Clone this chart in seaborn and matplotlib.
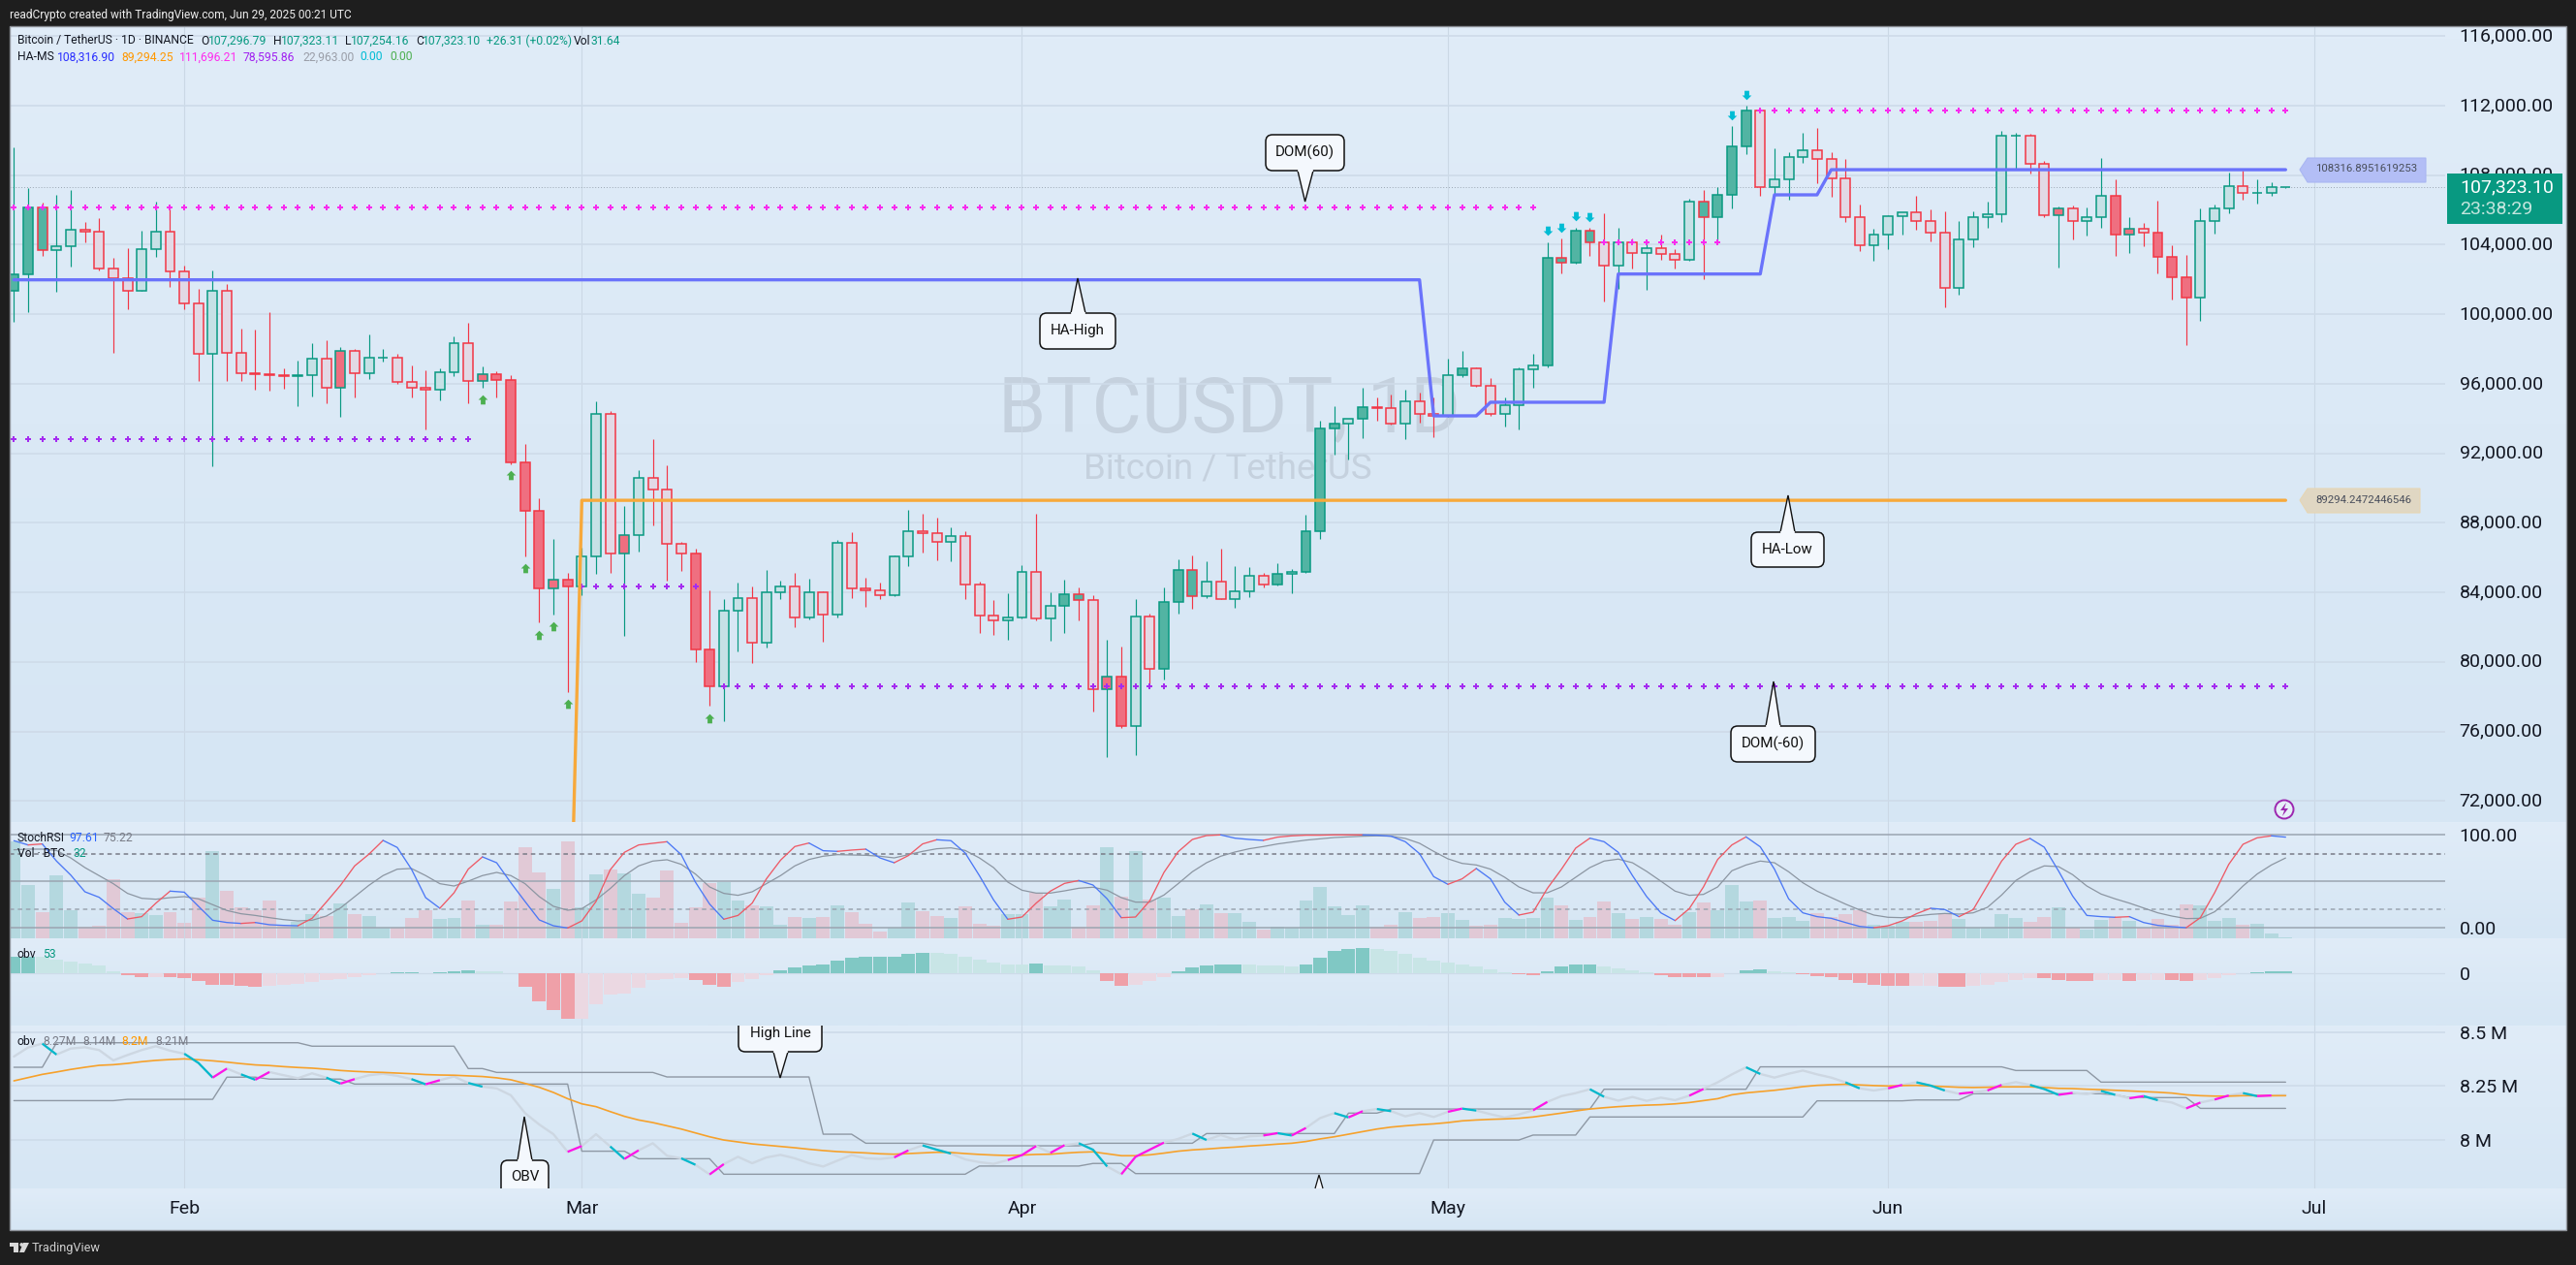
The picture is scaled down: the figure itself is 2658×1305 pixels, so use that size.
import numpy as np
import matplotlib
matplotlib.use("Agg")
import matplotlib.pyplot as plt
from matplotlib.patches import FancyBboxPatch, Polygon, Rectangle, Circle
from matplotlib.path import Path
from matplotlib.transforms import Affine2D
from matplotlib.colors import LinearSegmentedColormap
import seaborn as sns

# ---------- price data (BTCUSDT, 1D, one value per candle) ----------
first_open = 101330
closes = [102278,106127,103673,103896,104844,104732,102613,102055,101330,103729,104732,102446,100605,97705,101330,97761,96590,96534,96515,96423,
96478,97426,95753,97872,96590,97482,97520,96088,95753,95642,96646,98318,96144,96534,96236,91496,88670,84209,84711,84320,
86049,94248,86217,87276,90567,89897,86774,86217,80695,78576,82926,83651,81086,83986,84320,82536,83986,82703,86830,84209,
84097,83818,86049,87499,87387,86885,87220,84432,82647,82368,82535,85157,82480,83204,83874,83539,78408,79133,76289,82591,
79579,83428,85268,83762,84599,83632,84041,84933,84432,85045,85157,87499,93411,93689,93968,94637,94619,93689,94972,94247,
94136,96478,96868,95864,94247,94749,96812,97036,103227,102948,104788,104119,102780,104119,103505,103784,103450,103115,106461,105569,
106852,109640,111704,107298,107744,109027,109417,108915,107800,105569,103951,104566,105625,105848,105346,104677,101498,104286,105569,105736,
110254,110270,108636,105680,106071,105383,105569,106796,104565,104900,104677,103282,102111,100940,105346,106071,107354,106963,107000,107298,107323.10]
highs = [109603,107261,106405,106870,107149,105309,105532,103245,103803,104807,106480,106145,102799,101460,102501,101739,99174,99118,100122,96887,
97334,98337,98505,98095,98000,98839,98003,97705,97036,96757,96887,98727,99508,97000,96700,96478,92537,89414,87072,85120,
86570,94991,94434,88968,91031,92816,91310,86886,86514,84116,83614,84562,84339,85287,84674,85120,84785,84060,87016,87462,
84841,84562,86142,88745,88521,88298,87741,87517,84618,83558,83948,85547,88521,84004,84729,84283,83837,81271,80881,83614,
82777,84283,85900,86123,85789,86513,85510,85454,85119,85677,85342,88466,93875,94712,93998,95771,95214,95381,95660,95493,
95214,97445,97891,96924,96329,95214,96924,97723,104138,104361,104974,104974,105811,104974,104361,104119,104565,103747,106629,107149,
107298,110830,111982,111815,109547,109305,110439,110718,109324,108934,106312,104918,105700,105885,106814,106033,105922,105364,105922,106480,
110551,110439,110365,108822,106182,106257,106145,108989,107762,105587,105253,106535,103970,103412,106089,106312,108153,108264,107762,107595,107323.11]
lows = [99583,100140,103375,101312,102743,104137,102539,97799,100289,101330,103319,101591,100308,96181,91273,96181,96181,95679,95623,95734,
94731,95289,94898,94117,95233,96292,97259,96000,95233,93393,95066,96460,94898,95791,95233,91365,86087,82294,82740,78279,
83856,85083,85138,81513,86365,87871,84692,85250,80008,77498,76606,80602,79952,80825,83614,81997,82443,81160,82573,83670,
83168,83632,83800,85528,86309,85863,85807,83632,81680,81568,81290,82517,82368,81234,81680,82405,77163,74541,76200,74653,
78520,78983,82777,83056,83669,83600,83111,83725,84283,84376,83948,85100,87071,91942,91645,92871,93875,93634,92816,93764,
92927,94100,96366,95809,94136,93541,93373,95771,96925,102372,102900,103375,100754,101479,102650,101423,103153,102650,103100,102037,
104138,106090,109231,106833,106926,106610,108729,107558,106777,105327,103654,103096,103766,104565,104881,104193,100420,101145,103877,104974,
105309,108320,108097,105600,102706,104305,104528,104974,103357,103524,103914,102353,100847,98245,99638,104658,105810,106591,106368,106833,107254.16]
solid_green_fill = [0,1,2,74,75,81,82,83,89,91,92,93,95,102,108,109,110,111,119,120,121,122]
solid_red_fill = [23,33,34,35,36,37,38,39,43,48,49,77,78,144,148,149,151,152,153]

month_idx = [12,40,71,101,132,162]
month_names = ["Feb","Mar","Apr","May","Jun","Jul"]

dom_high_runs = [(0,107,106145),(112,120,104138),(123,160,111696.21)]
dom_low_runs = [(0,32,92816),(40,48,84358),(50,160,78595.86)]
ha_high_runs = [(0,101981),(100,94155),(104,94936),(113,102316),(124,106870),(128,108316.90)]
ha_low_runs = [(39,57400),(40,89294.25)]
buy_idx = [33,35,36,37,38,39,49]
buy_price = [95121,90734,85417,81569,82071,77609,76773]
sell_idx = [108,109,110,111,121,122]
sell_price = [104788,104956,105625,105569,111425,112596]
price_ticks = list(range(72000,116001,4000))

# ---------- volume and StochRSI ----------
volume = [299,165,81,195,87,36,39,183,81,78,72,81,48,126,270,147,96,87,117,39,50,75,69,108,75,69,32,32,63,87,60,63,117,42,42,114,282,204,153,300,96,198,213,201,138,126,210,48,96,171,174,117,102,99,42,66,63,66,102,81,45,
21,33,111,84,69,63,99,45,39,75,75,141,99,120,36,102,282,129,270,120,126,69,90,105,78,78,51,27,36,32,117,159,99,72,102,36,42,81,63,66,78,57,39,42,63,60,63,126,102,57,66,114,78,60,66,60,42,81,111,87,
165,114,117,63,66,54,78,66,75,87,42,39,51,51,54,78,60,32,32,75,63,51,66,96,32,27,57,66,54,32,60,42,105,102,54,63,42,45,15,3]
stoch_k = [93.8,89.2,90.3,71.9,56.9,38.9,33,20.8,9.7,12.2,26.7,39.6,38.5,23.3,8.3,5.9,4.9,5.9,3.5,2.8,2.4,10.4,27.8,45.8,66.7,79.2,94.1,86.5,63.2,32.6,21.2,37.8,63.2,76.4,70.1,48.6,28.5,8.7,2.4,0,7.6,28.5,62.5,81.3,89.2,91,92.7,78.8,49.3,25.7,9.4,13.5,26.7,52.8,72.9,87.5,91.3,83,82.3,83.7,84.7,
75.3,70.1,77.8,90.3,94.8,93.8,80.6,56.3,30.2,9.4,11.8,26.7,39.6,47.9,51,46.2,31.3,11.1,11.8,29.2,59.7,81.9,95.1,99.3,100,96.5,95.1,94.1,97.6,99,99.7,99.7,100,100,100,99.7,98.6,92.7,79.9,55.2,46.9,52.8,63.9,52.8,27.8,13.9,17,42.4,63.2,85.8,96.5,92.7,81.3,56.3,33.7,16.3,8,20.8,44.1,73.6,
89.2,97.9,87.2,63.2,31.3,16.3,12.2,10.4,5.9,1.7,0.3,2.4,7.6,15.3,21.2,19.8,12.2,19.8,45.8,71.9,89.9,96.2,86.8,61.5,34.4,13.5,12.2,11.5,12.2,5.9,2.8,1.4,0.3,11.1,37.8,68.4,89.9,96.9,99,97.61]
stoch_d = [84,84.7,84.7,83.3,75.3,64.9,56.3,47.6,37.2,31.9,30.9,32.6,33.7,31.3,25,18.8,15.3,13.5,11.1,9,7.6,8.3,12.8,21.5,33.7,45.8,56.3,63.2,63.9,56.3,47.6,45.1,50.3,56.3,59.7,56.3,47.6,33.7,23.3,19.1,20.8,30.2,42.4,56.3,66.7,71.9,73.3,68.4,58,44.1,37.2,35.1,38.9,47.6,56.3,66.7,73.6,77.1,78.8,78.5,78.1,
77.1,75.3,78.8,82.3,85.1,86.1,83.3,75.3,64.9,49.3,40.6,37.5,37.5,39.9,42.7,43.8,40.6,32.6,27.8,27.8,35.4,47.6,60.4,70.1,77.1,81.6,85.1,87.5,90.3,92.4,94.4,95.8,97.2,97.9,98.6,99,98.6,96.2,91,82.3,74.3,69.4,67.7,63.2,54.5,44.1,37.8,37.8,44.1,54.5,64.9,71.9,74,70.1,60.8,50.3,39.6,35.1,36.1,44.1,
61.5,67.7,71.9,70.1,60.4,48.6,39.6,32.6,25.7,19.4,13.9,11.5,11.1,12.8,14.6,15.6,14.9,16.3,22.2,35.4,51,60.4,66.7,66,57.3,45.1,36.5,31.3,26.7,21.5,16.3,12.8,10.1,10.4,17.4,30.2,45.1,58,67.7,75.22]

# ---------- obv histogram ----------
obv_hist = [52,52,52,43,37,31,25,7,-5,-10,-10,-10,-14,-23,-35,-35,-38,-41,-38,-35,-32,-26,-20,-17,-11,-5,2,4,4,2,4,7,10,7,7,2,-41,-86,-113,-140,-140,-95,-65,-62,-44,-20,-17,-14,-20,-35,-41,-26,-17,-5,10,19,25,28,40,49,52,
52,52,61,64,64,61,52,43,34,28,28,31,25,25,22,10,-23,-38,-35,-23,-11,7,19,25,28,28,28,25,25,22,28,49,70,76,79,76,70,61,49,40,34,28,22,13,4,-2,-5,7,22,28,28,22,16,10,4,-5,-11,-11,-11,-11,
2,10,13,7,4,-2,-8,-11,-20,-29,-35,-38,-38,-38,-38,-41,-41,-38,-35,-26,-20,-14,-14,-20,-23,-23,-20,-20,-23,-20,-20,-20,-23,-20,-14,-5,1,3,6,7]
hist_strong_runs = [(0,1),(8,9),(11,17),(26,28),(30,32),(36,39),(48,50),(54,64),(72,72),(77,78),(82,86),(91,95),(106,111),(116,119),(121,123),(126,133),(136,137),(143,146),(149,149),(152,153),(157,160)]

# ---------- obv lines (millions) ----------
obv = [8.387,8.429,8.447,8.396,8.424,8.430,8.417,8.369,8.394,8.417,8.435,8.414,8.400,8.357,8.289,8.331,8.304,8.279,8.315,8.300,8.286,8.309,8.289,8.261,8.282,8.300,8.307,8.297,8.282,8.258,8.277,8.294,8.264,8.247,8.239,8.207,8.124,8.071,8.026,7.944,7.971,8.026,7.969,7.911,7.951,7.984,7.926,7.914,7.884,7.839,7.887,7.921,7.891,7.918,7.930,7.914,7.891,7.876,7.903,7.929,7.914,
7.911,7.918,7.951,7.974,7.954,7.936,7.909,7.896,7.888,7.906,7.929,7.971,7.939,7.975,7.984,7.954,7.876,7.840,7.921,7.954,7.987,8.004,8.029,7.999,8.022,8.001,8.016,8.020,8.031,8.020,8.055,8.101,8.124,8.104,8.133,8.143,8.133,8.109,8.124,8.106,8.130,8.145,8.136,8.119,8.104,8.118,8.137,8.176,8.203,8.217,8.235,8.200,8.182,8.199,8.181,8.196,8.184,8.205,8.236,8.267,
8.304,8.337,8.306,8.289,8.307,8.322,8.304,8.289,8.267,8.239,8.229,8.239,8.255,8.267,8.252,8.229,8.214,8.221,8.229,8.255,8.268,8.255,8.236,8.209,8.218,8.212,8.227,8.209,8.193,8.203,8.184,8.173,8.146,8.173,8.187,8.206,8.217,8.203,8.206,8.208]
obv_ma = [8.274,8.289,8.304,8.315,8.327,8.337,8.346,8.349,8.355,8.363,8.369,8.373,8.376,8.372,8.367,8.361,8.354,8.348,8.345,8.340,8.336,8.333,8.328,8.322,8.318,8.315,8.313,8.310,8.307,8.303,8.301,8.300,8.297,8.294,8.288,8.279,8.262,8.244,8.220,8.191,
8.167,8.154,8.131,8.109,8.092,8.080,8.065,8.050,8.032,8.014,7.999,7.990,7.981,7.975,7.969,7.963,7.956,7.950,7.945,7.942,7.939,
7.935,7.933,7.936,7.939,7.942,7.941,7.936,7.932,7.929,7.927,7.929,7.932,7.933,7.938,7.942,7.944,7.935,7.926,7.926,7.930,7.938,7.947,7.953,7.957,7.962,7.966,7.971,7.975,7.980,7.984,7.992,8.004,8.014,8.026,8.038,8.050,8.059,8.065,8.070,8.074,8.080,8.088,8.092,8.095,8.097,8.100,8.106,8.115,8.124,8.134,8.143,8.149,8.154,8.158,8.161,8.163,8.167,8.173,8.182,8.191,
8.209,8.218,8.224,8.230,8.238,8.247,8.253,8.256,8.258,8.255,8.252,8.250,8.252,8.253,8.250,8.247,8.244,8.243,8.244,8.246,8.246,8.246,8.243,8.239,8.238,8.235,8.233,8.230,8.227,8.224,8.221,8.217,8.209,8.205,8.203,8.203,8.205,8.205,8.205,8.205]
obv_high_runs = [(0,8.337),(3,8.451),(21,8.435),(32,8.331),(34,8.313),(46,8.292),(57,8.026),(60,7.984),(65,7.972),(76,7.984),(84,8.029),(94,8.124),(97,8.143),(112,8.235),(123,8.339),(141,8.322),(147,8.268)]
obv_low_runs = [(0,8.182),(8,8.188),(15,8.291),(18,8.282),(24,8.259),(40,7.947),(44,7.912),(50,7.840),(68,7.878),(76,7.890),(79,7.843),(100,7.999),(107,8.022),(111,8.106),(127,8.181),(134,8.185),(138,8.214),(148,8.209),(149,8.196),(154,8.146)]
obv_falling_segments = [(2,3),(12,14),(16,17),(22,23),(28,29),(32,33),(42,43),(47,48),(64,66),(75,77),(83,84),(89,90),(93,94),(96,97),(102,103),(111,112),(122,123),(129,130),(134,136),(142,144),(147,148),(150,151),(157,158)]
obv_rising_segments = [(14,15),(17,18),(23,24),(29,30),(39,40),(43,44),(49,50),(62,63),(70,72),(73,74),(78,81),(88,89),(90,91),(94,95),(101,102),(107,108),(118,119),(132,133),(137,138),(139,140),(144,145),(149,150),(153,154),(155,156),(158,159)]

# ---------- look ----------
W, H = 2658, 1305
FONT = ["Roboto", "DejaVu Sans"]
sns.set_theme(style="white")
plt.rcParams["font.family"] = FONT
plt.rcParams["axes.unicode_minus"] = False

n = len(closes)
for name, arr in dict(highs=highs, lows=lows, volume=volume, k=stoch_k, d=stoch_d, hist=obv_hist, obv=obv, ma=obv_ma).items():
    assert len(arr) == n, f"{name} has {len(arr)} not {n}"
idx = np.arange(n)
opens = [first_open] + closes[:-1]

fig = plt.figure(figsize=(W/100, H/100), dpi=100, facecolor="#1e1e1e")

def pane(x0, y0, x1, y1, z=2):
    a = fig.add_axes([x0/W, 1-y1/H, (x1-x0)/W, (y1-y0)/H], zorder=z)
    a.patch.set_alpha(0)
    for s in a.spines.values():
        s.set_visible(False)
    return a

def expand(runs):
    out = np.full(n, np.nan)
    for i, (start, val) in enumerate(runs):
        end = runs[i+1][0] if i+1 < len(runs) else n
        out[start:end] = val
    return out

# pixel-space background and overlay
bg = pane(0, 0, W, H, z=0)
XL = (-0.297, 171.24)   # index range of the plotting width
PANES = [(27, 848), (848, 968), (968, 1058), (1058, 1226), (1226, 1269)]
cmap = LinearSegmentedColormap.from_list("p", ["#E0ECF8", "#D6E6F4"])
for top, bot in PANES:
    bg.imshow(np.linspace(0, 1, 64)[:, None], cmap=cmap, aspect="auto", extent=[10, 2648, bot, top], zorder=0)
bg.set_xlim(0, W); bg.set_ylim(H, 0); bg.axis("off")

ax = pane(10, 27, 2523, 848, z=3)
ax_vol = pane(10, 848, 2523, 968, z=1)
ax_st = pane(10, 848, 2523, 968, z=3)
ax_h = pane(10, 968, 2523, 1058, z=3)
ax_o = pane(10, 1058, 2523, 1226, z=3)
ov = pane(0, 0, W, H, z=10)
ov.set_xlim(0, W); ov.set_ylim(H, 0); ov.axis("off")

GRID = "#CEDBE9"
INK = "#131722"

# watermark (under the candles)
ax.text((1268-10)/2513, 1-(423-27)/821, "BTCUSDT, 1D", transform=ax.transAxes, ha="center", va="center",
        fontsize=57, color="#C5D1DE", zorder=0.5)
ax.text((1267-10)/2513, 1-(483-27)/821, "Bitcoin / TetherUS", transform=ax.transAxes, ha="center", va="center",
        fontsize=26.5, color="#C5D1DE", zorder=0.5)

# candles
UP, DN = "#089981", "#F23645"
edge = [UP if c >= o else DN for o, c in zip(opens, closes)]
face = ["#C6E1E6" if c >= o else "#E2D9E5" for o, c in zip(opens, closes)]
for i in solid_green_fill:
    face[i] = "#52B4A3"
for i in solid_red_fill:
    face[i] = "#EF6F80"
ax.vlines(idx, lows, highs, colors=edge, linewidth=0.85, zorder=2)
ax.bar(idx, np.array(closes)-np.array(opens), bottom=opens, width=0.68, color=face, edgecolor=edge, linewidth=1.1, zorder=3)

# DOM dots
for runs, col in ((dom_high_runs, "#F72CEE"), (dom_low_runs, "#A42BF0")):
    for a_, b_, lv in runs:
        xs = np.arange(a_, b_+1)
        sns.scatterplot(x=xs, y=np.full(xs.size, lv), marker="P", s=20, color=col, linewidth=0, ax=ax, legend=False, zorder=4)

# HA lines
sns.lineplot(x=idx, y=expand(ha_high_runs), color="#6A73FB", linewidth=2.4, ax=ax, legend=False, errorbar=None, zorder=5)
sns.lineplot(x=idx, y=expand(ha_low_runs), color="#F7A93B", linewidth=2.4, ax=ax, legend=False, errorbar=None, zorder=5)

# arrows
up_arrow = Path([(-.25,-.5),(.25,-.5),(.25,0),(.5,0),(0,.5),(-.5,0),(-.25,0),(-.25,-.5)], closed=True)
dn_arrow = Path([(-.25,.5),(.25,.5),(.25,0),(.5,0),(0,-.5),(-.5,0),(-.25,0),(-.25,.5)], closed=True)
ax.scatter(buy_idx, buy_price, marker=up_arrow, s=48, color="#4CAF50", linewidths=0, zorder=6)
ax.scatter(sell_idx, sell_price, marker=dn_arrow, s=48, color="#00BCD4", linewidths=0, zorder=6)

ax.axhline(closes[-1], color="#9AA6B2", lw=0.7, ls=(0, (1, 2)), zorder=1)
ax.set_ylim(70786, 116574)
ax.set_yticks(price_ticks, [f"{v:,.2f}" for v in price_ticks])

# volume bars
vol_cat = ["u" if c >= o else "d" for o, c in zip(opens, closes)]
sns.barplot(x=idx, y=volume, hue=vol_cat, palette={"u": "#B4D8DF", "d": "#E1C9D6"}, native_scale=True, dodge=False,
            width=0.95, saturation=1, legend=False, errorbar=None, linewidth=0, ax=ax_vol)
ax_vol.set_ylim(0, 360)
ax_vol.set_xlim(*XL)
ax_vol.set_xticks([]); ax_vol.set_yticks([]); ax_vol.set_xlabel(""); ax_vol.set_ylabel("")

# StochRSI
ax_st.axhline(100, color="#9BA5B1", lw=1.1)
ax_st.axhline(80, color="#787B86", lw=1.1, ls=(0, (3, 2.5)))
ax_st.axhline(50, color="#9BA5B1", lw=1.1)
ax_st.axhline(20, color="#9BA5B1", lw=1.1, ls=(0, (3, 2.5)))
ax_st.axhline(0, color="#9BA5B1", lw=1.1)
sns.lineplot(x=idx, y=stoch_d, color="#8C96A2", linewidth=0.9, ax=ax_st, legend=False, errorbar=None)
k = np.array(stoch_k)
start = 0
for i in range(1, n):
    if i == n-1 or (k[i+1]-k[i] >= 0) != (k[i]-k[i-1] >= 0):
        col = "#EE5A66" if k[i]-k[i-1] >= 0 else "#4C78F5"
        sns.lineplot(x=idx[start:i+1], y=k[start:i+1], color=col, linewidth=0.95, ax=ax_st, legend=False, errorbar=None)
        start = i
ax_st.set_ylim(-11.1, 113.85)
ax_st.set_yticks([0, 100], ["0.00", "100.00"])

# obv histogram
strong = np.zeros(n, bool)
for a_, b_ in hist_strong_runs:
    strong[a_:b_+1] = True
hist_cat = [("g" if h >= 0 else "r") + ("s" if s else "l") for h, s in zip(obv_hist, strong)]
sns.barplot(x=idx, y=obv_hist, hue=hist_cat,
            palette={"gs": "#80C8C4", "gl": "#C8E5E6", "rs": "#EFA0A8", "rl": "#EBD8E2"},
            native_scale=True, dodge=False, width=0.95, saturation=1, legend=False, errorbar=None, linewidth=0, ax=ax_h)
ax_h.set_ylim(-161, 109)
ax_h.set_yticks([0], ["0"])

# obv lines
sns.lineplot(x=idx, y=expand(obv_high_runs), color="#8E98A4", linewidth=1.0, ax=ax_o, legend=False, errorbar=None)
sns.lineplot(x=idx, y=expand(obv_low_runs), color="#8E98A4", linewidth=1.0, ax=ax_o, legend=False, errorbar=None)
sns.lineplot(x=idx, y=obv, color="#CDD7E2", linewidth=1.7, ax=ax_o, legend=False, errorbar=None)
obv_arr = np.array(obv)
for segs, col in ((obv_falling_segments, "#00B8CC"), (obv_rising_segments, "#FF14E8")):
    for a_, b_ in segs:
        ax_o.plot(idx[a_:b_+1], obv_arr[a_:b_+1], color=col, lw=1.6, solid_capstyle="butt", zorder=5)
sns.lineplot(x=idx, y=obv_ma, color="#F6A12B", linewidth=1.2, ax=ax_o, legend=False, errorbar=None)
ax_o.set_ylim(7.774, 8.5308)
ax_o.set_yticks([8, 8.25, 8.5], ["8 M", "8.25 M", "8.5 M"])

for a_ in (ax, ax_st, ax_h, ax_o):
    a_.set_xlim(*XL)
    a_.set_xlabel(""); a_.set_ylabel("")
    a_.yaxis.tick_right()
    a_.set_xticks(month_idx, month_names if a_ is ax_o else [""]*len(month_idx))
    a_.tick_params(axis="both", length=0, labelsize=14, labelcolor=INK)
    a_.tick_params(axis="y", pad=10.5, labelright=True, labelleft=False)
    a_.tick_params(axis="x", pad=9, labelsize=14)
    a_.grid(True, axis="x", color="#CBD8E5", lw=0.8)
    a_.set_axisbelow(True)
for a_ in (ax, ax_o):
    a_.grid(True, axis="y", color=GRID, lw=1.2)
ax_h.grid(True, axis="y", color=GRID, lw=0.9)

# main price labels sit 2 px above their grid lines
for t in ax.yaxis.get_major_ticks():
    t.label2.set_transform(t.label2.get_transform() + Affine2D().translate(0, 2))
# the top obv label is cut by the pane edge
for t in ax_o.yaxis.get_major_ticks():
    t.label2.set_clip_path(Rectangle((2525, 1058), 120, 168, transform=ov.transData))
    t.label2.set_clip_on(True)

# ---------- overlay in pixels ----------
def tx(x, y, s, color=INK, size=8.7, **kw):
    kw.setdefault("va", "center"); kw.setdefault("ha", "left")
    return ov.text(x, y, s, color=color, fontsize=size, **kw)

tx(10, 15, "readCrypto created with TradingView.com, Jun 29, 2025 00:21 UTC", color="#EDEDED", size=8.6)
T = "#089981"
for x, s, c in [(18,"Bitcoin / TetherUS · 1D · BINANCE",INK),(207,"O",INK),(215,"107,296.79",T),(282,"H",INK),(290,"107,323.11",T),
                (356,"L",INK),(362,"107,254.16",T),(429,"C",INK),(436,"107,323.10",T),(502,"+26.31 (+0.02%)",T),(592,"Vol",INK),(610,"31.64",T)]:
    tx(x, 42, s, c)
for x, s, c in [(18,"HA-MS",INK),(59,"108,316.90","#2A2EFF"),(125,"89,294.25","#FF9800"),(185,"111,696.21","#FF2BEE"),(251,"78,595.86","#A020F0"),
                (312,"22,963.00","#9A9EA8"),(371,"0.00","#00BCD4"),(402,"0.00","#4CAF50")]:
    tx(x, 59, s, c)
for x, s, c in [(18,"StochRSI",INK),(71,"97.61","#2962FF"),(107,"75.22","#787B86")]:
    tx(x, 864, s, c)
for x, s, c in [(18,"Vol · BTC",INK),(75,"32",T)]:
    tx(x, 881, s, c)
for x, s, c in [(18,"obv",INK),(44,"53",T)]:
    tx(x, 984, s, c)
for x, s, c in [(18,"obv",INK),(44,"8.27M","#787B86"),(85,"8.14M","#787B86"),(125,"8.2M","#FF9800"),(160,"8.21M","#787B86")]:
    tx(x, 1074, s, c)

def callout(x0, y0, x1, y1, tipx, tipy, b0, b1, label, ty=None, clip=None):
    box = FancyBboxPatch((x0+6, y0+6), x1-x0-12, y1-y0-12, boxstyle="round,pad=6,rounding_size=7",
                         fc="#F4F8FD", ec="#111111", lw=1.1, zorder=5, mutation_aspect=1)
    ov.add_patch(box)
    by = y1 if tipy > y1 else y0
    tri = Polygon([(b0, by), (tipx, tipy), (b1, by)], closed=False, fc="#F4F8FD", ec="#111111", lw=1.0, zorder=6)
    ov.add_patch(tri)
    base = ov.plot([b0+1, b1-1], [by, by], color="#F4F8FD", lw=1.6, zorder=7)[0]
    t = tx((x0+x1)/2, ty if ty else (y0+y1)/2, label, color="#111111", size=10.9, ha="center", zorder=8)
    if clip is not None:
        r = Rectangle((clip[0], clip[1]), clip[2]-clip[0], clip[3]-clip[1], transform=ov.transData)
        box.set_clip_path(r)
        tri.set_clip_path(r); base.set_clip_path(r)
        t.set_clip_path(r)

callout(1306, 139, 1387, 176, 1346.6, 208, 1339, 1355, "DOM(60)")
callout(1073, 323, 1151, 360, 1112, 287, 1105, 1120, "HA-High")
callout(1807, 549, 1882, 585, 1845, 511, 1837, 1852, "HA-Low")
callout(1786, 749, 1873, 786, 1830, 703, 1822, 1837, "DOM(-60)")
callout(762, 1048, 848, 1085, 805, 1112, 798, 813, "High Line", ty=1066, clip=(10, 1058, 2523, 1226))
callout(517, 1197, 566, 1234, 541, 1152, 534, 549, "OBV", ty=1214, clip=(10, 1058, 2523, 1226))
ptr = Polygon([(1357, 1226), (1361, 1212), (1365, 1226)], closed=False, fc="#F4F8FD", ec="#111111", lw=0.9, zorder=6)
ov.add_patch(ptr)

# value tags
ov.add_patch(Polygon([(2373,175),(2381,163),(2503,163),(2503,188),(2381,188)], closed=True, fc="#B3BEF6", ec="#A9B6F2", lw=0.8, zorder=5))
tx(2389, 174, "108316.8951619253", color="#4A4F5C", size=8.2, zorder=6)
ov.add_patch(Polygon([(2373,516),(2381,504),(2497,504),(2497,529),(2381,529)], closed=True, fc="#E0D7C3", ec="#E6D6B4", lw=0.8, zorder=5))
tx(2389, 516, "89294.2472446546", color="#4A4F5C", size=8.2, zorder=6)

# last price badge
ov.add_patch(Rectangle((2525, 179), 119, 52, fc="#089981", ec="none", zorder=5))
tx(2538, 193, "107,323.10", color="#FFFFFF", size=14, zorder=6)
tx(2538, 216, "23:38:29", color="#C4E6DE", size=14, zorder=6)

# lightning badge
ov.add_patch(Circle((2357, 835), 9.5, fc="#E6EEF8", ec="#9C27B0", lw=1.4, zorder=5))
ov.add_patch(Polygon([(2359,828),(2353,836),(2357,836),(2355,842),(2361,834),(2357,834)], closed=True, fc="#9C27B0", ec="none", zorder=6))

# frame and logo
ov.add_patch(Rectangle((10, 27), 2638, 1242, fc="none", ec="#8C9097", lw=1.0, zorder=9))
ov.add_patch(Polygon([(10,1282),(19,1282),(19,1292),(14,1292),(14,1286),(10,1286)], closed=True, fc="#D8D8D8", ec="none", zorder=6))
ov.add_patch(Circle((22.3, 1284), 1.9, fc="#D8D8D8", ec="none", zorder=6))
ov.add_patch(Polygon([(24,1282),(30,1282),(25,1292),(20,1292)], closed=True, fc="#D8D8D8", ec="none", zorder=6))
tx(33, 1287, "TradingView", color="#CFCFCF", size=9.2)

fig.savefig("out.png", dpi=100, facecolor=fig.get_facecolor())
